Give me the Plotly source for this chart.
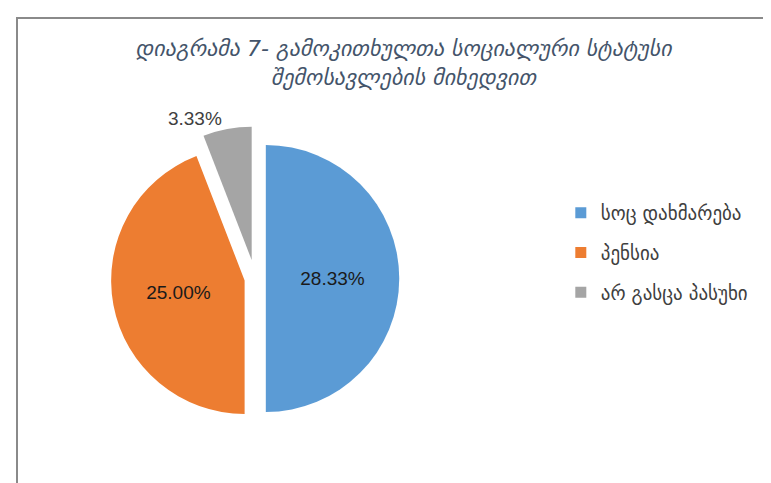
import plotly.graph_objects as go

# Data
categories = ["სოც დახმარება", "პენსია", "არ გასცა პასუხი"]
values = [28.33, 25.00, 3.33]
colors = ["#5B9BD5", "#ED7D31", "#A5A5A5"]
title_text = "დიაგრამა 7- გამოკითხულთა სოციალური სტატუსი<br>შემოსავლების მიხედვით"

W, H = 771, 483

fig = go.Figure()

fig.add_trace(go.Pie(
    labels=categories,
    values=values,
    sort=False,
    direction="clockwise",
    rotation=0,
    pull=[0.08, 0.08, 0.14],
    marker=dict(colors=colors, line=dict(width=0)),
    texttemplate="%{value:.2f}%",
    textposition=["inside", "inside", "outside"],
    insidetextorientation="horizontal",
    textfont=dict(family="Liberation Sans Narrow, Liberation Sans, sans-serif", size=19,
                  color=["#1a1a1a", "#1a1a1a", "#404040"]),
    domain=dict(x=[0.113, 0.528], y=[0.125, 0.755]),
    showlegend=False,
    hoverinfo="label+value",
))

# legend entries (square markers) mapped to the same categories/colors
for cat, col in zip(categories, colors):
    fig.add_trace(go.Scatter(
        x=[None], y=[None], mode="markers", name=cat,
        marker=dict(symbol="square", size=11, color=col),
        legendgroup=cat, showlegend=True,
    ))

fig.update_xaxes(visible=False)
fig.update_yaxes(visible=False)

fig.update_layout(
    width=W, height=H,
    margin=dict(l=0, r=0, t=0, b=0, autoexpand=False),
    paper_bgcolor="white",
    plot_bgcolor="white",
    title=dict(
        text=title_text,
        x=0.513, xanchor="center",
        y=0.90, yanchor="top",
        font=dict(family="DejaVu Sans, sans-serif", size=22, color="#44546A", style="italic"),
    ),
    legend=dict(
        x=0.717, y=0.615, xanchor="left", yanchor="top",
        font=dict(family="DejaVu Sans, sans-serif", size=19, color="#404040"),
        tracegroupgap=12,
        itemwidth=30,
        bgcolor="rgba(0,0,0,0)",
    ),
    shapes=[dict(
        type="rect", xref="paper", yref="paper",
        x0=9 / W, x1=1.05, y0=-0.05, y1=1 - 10 / H,
        line=dict(color="#8a8a8a", width=2),
        fillcolor="rgba(0,0,0,0)",
    )],
)

fig.write_html("out.html")
